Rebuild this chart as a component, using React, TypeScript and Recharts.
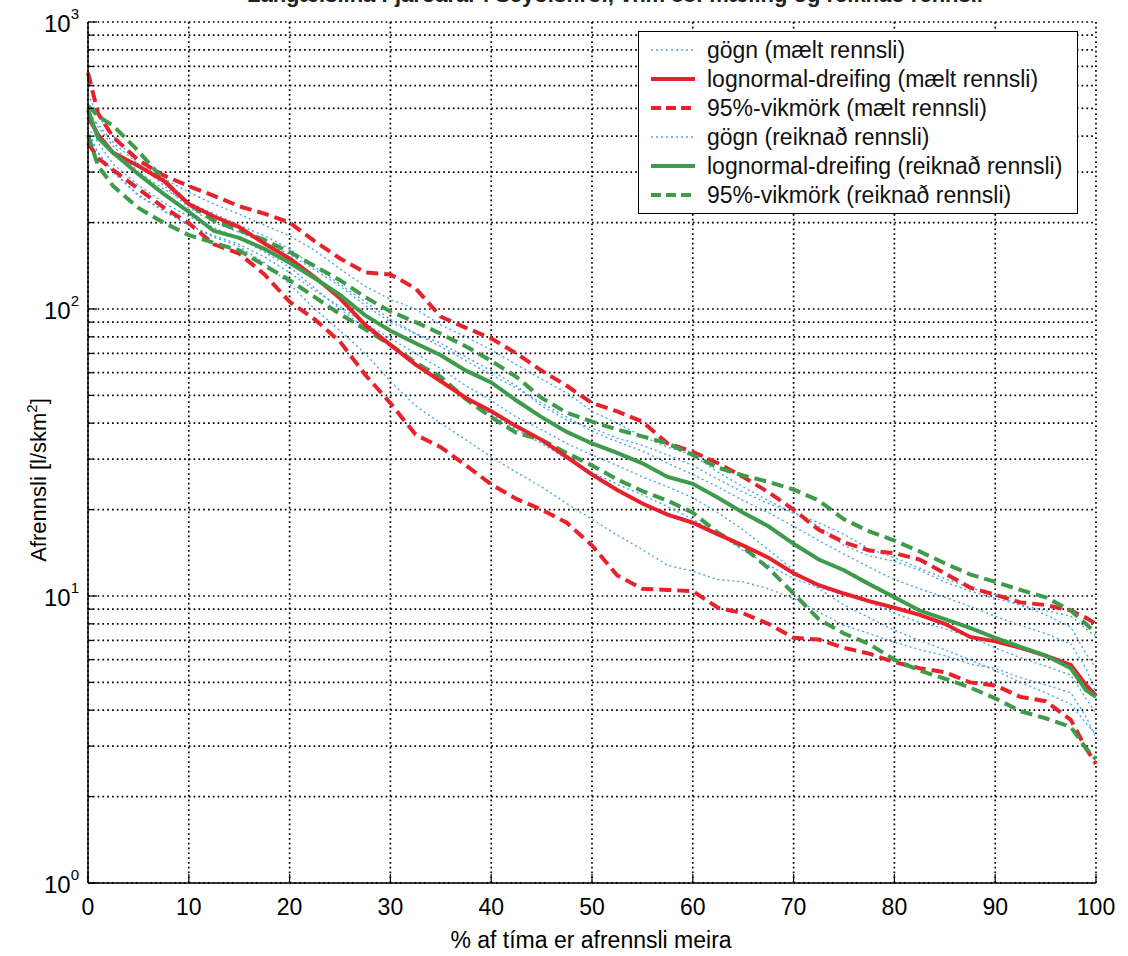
import { LineChart, Line, XAxis, YAxis, CartesianGrid } from 'recharts'

const FONT = '"Liberation Sans", Arial, Helvetica, sans-serif'
const RED = '#e8222c'
const GREEN = '#3d9b4b'
const BLUE = '#4aa6ea'

// % of time the runoff is exceeded
const pct = [
  0, 1, 2.5, 5, 7.5, 10, 12.5, 15, 17.5, 20, 22.5, 25, 27.5, 30, 32.5, 35, 37.5, 40, 42.5, 45,
  47.5, 50, 52.5, 55, 57.5, 60, 62.5, 65, 67.5, 70, 72.5, 75, 77.5, 80, 82.5, 85, 87.5, 90, 92.5,
  95, 97.5, 99, 100,
]

// lognormal fit, measured runoff (l/s/km2)
const redLogn = [
  467, 405, 350, 315, 280, 232, 210, 193, 169, 150, 129, 109, 88, 75, 64, 56, 49, 44, 39, 35,
  30.5, 26.5, 23.4, 21, 19.2, 18, 16.4, 15, 13.6, 12.0, 10.9, 10.2, 9.6, 9.1, 8.6, 8.0, 7.2, 6.95,
  6.6, 6.2, 5.75, 4.9, 4.5,
]
const redUpper = [
  665, 480, 397, 330, 292, 268, 248, 228, 215, 200, 172, 150, 134, 132, 118, 94, 86, 79, 70, 61,
  54, 47, 44, 40.5, 34, 31.8, 29, 26, 23, 20, 17, 15.4, 14.4, 14.1, 13.4, 12, 10.7, 10.1, 9.5,
  9.3, 8.9, 8.4, 8.0,
]
const redLower = [
  379, 335, 305, 262, 226, 199, 168, 156, 132, 106, 92, 77, 59, 47, 36.5, 33, 28.5, 24.5, 21.8,
  20, 18, 15, 11.8, 10.6, 10.5, 10.4, 9.1, 8.7, 8.0, 7.15, 7.05, 6.6, 6.3, 5.88, 5.6, 5.43, 5.0,
  4.88, 4.45, 4.3, 3.7, 2.95, 2.6,
]

// lognormal fit, computed runoff
const greenLogn = [
  493, 395, 350, 295, 252, 218, 187, 177, 162, 145, 128, 112, 95, 84, 76, 69, 61, 55.5, 48, 42,
  37.3, 34, 31.5, 29, 26, 24.6, 22, 19.5, 17.5, 15.2, 13.4, 12.3, 11.0, 9.9, 8.9, 8.3, 7.75, 7.15,
  6.65, 6.2, 5.6, 4.7, 4.45,
]
const greenUpper = [
  510, 470, 435, 355, 282, 232, 203, 188, 174, 158, 141, 126, 110, 98, 90, 82, 74, 66, 58, 49,
  43.5, 40.5, 38, 36, 34, 31, 28, 26.3, 25, 23.5, 21.5, 18.5, 16.8, 15.6, 14.3, 13, 11.9, 11.2,
  10.5, 9.9, 8.9, 8.0, 7.4,
]
const greenLower = [
  404, 315, 268, 225, 200, 181, 170, 160, 142, 126, 110, 96, 85, 75, 65, 58, 48.5, 42, 37, 35,
  31.5, 28.5, 25.5, 23.2, 21.5, 19.5, 16.6, 14.8, 12.5, 10.2, 8.3, 7.4, 6.8, 6.0, 5.5, 5.15, 4.8,
  4.4, 3.97, 3.75, 3.5, 2.95, 2.7,
]

// data curves (gögn)
const data1 = [
  560, 470, 400, 320, 285, 255, 232, 214, 196, 180, 160, 138, 120, 108, 100, 88, 80, 72, 64, 57,
  51, 44, 40, 36, 33, 31, 27, 24, 21.5, 19.5, 17.5, 15, 13.8, 13.2, 12.3, 11.2, 10.4, 9.8, 9.3,
  8.9, 8.5, 7.7, 7.2,
]
const data2 = [
  500, 430, 370, 300, 262, 235, 215, 196, 180, 162, 140, 122, 106, 92, 82, 74, 66, 59, 53, 47,
  42, 37.5, 34.5, 32, 29, 26.5, 24, 21.5, 19.5, 17.5, 15.6, 14, 12.6, 11.4, 10.6, 9.9, 9.2, 8.5,
  7.9, 7.4, 6.8, 5.6, 4.6,
]
const data3 = [
  430, 380, 320, 270, 235, 210, 192, 176, 158, 140, 118, 100, 86, 74, 64, 56, 49, 43, 38, 34,
  30, 27, 24.5, 22.5, 20.5, 18.5, 16.5, 14.4, 12.8, 11.5, 10.7, 10.1, 9.5, 8.7, 8.1, 7.7, 7.2,
  6.6, 6.1, 5.7, 5.3, 4.4, 3.9,
]
const data4 = [
  400, 350, 300, 250, 220, 196, 178, 165, 145, 122, 100, 84, 70, 56, 46, 40, 35, 30.5, 27, 24,
  21, 18.5, 16.3, 14.5, 12.8, 12.2, 11.4, 11.2, 10.6, 9.8, 8.8, 7.9, 7.4, 6.9, 6.5, 6.2, 5.8,
  5.6, 5.2, 4.9, 4.6, 3.8, 3.2,
]
const data5 = [
  470, 440, 380, 320, 270, 225, 200, 185, 170, 155, 137, 120, 103, 90, 82, 76, 68, 61, 54, 46,
  41, 38.5, 35.5, 33.5, 31, 28.5, 25.5, 23, 21, 19.5, 18, 16.4, 14.6, 13.6, 12.5, 11.5, 10.7,
  10.1, 9.3, 8.6, 7.8, 6.3, 5.6,
]
const data6 = [
  420, 350, 300, 248, 220, 196, 180, 168, 152, 134, 116, 102, 89, 79, 70, 62, 54, 48, 42, 38,
  34, 31, 28.5, 26, 24, 22, 19.5, 17, 14.5, 12.3, 10.6, 9.3, 8.4, 7.6, 7.0, 6.5, 6.0, 5.5, 5.0,
  4.6, 4.2, 3.6, 3.3,
]

const xTicks = [0, 10, 20, 30, 40, 50, 60, 70, 80, 90, 100]
const yTicks = [
  1, 2, 3, 4, 5, 6, 7, 8, 9, 10, 20, 30, 40, 50, 60, 70, 80, 90, 100, 200, 300, 400, 500, 600,
  700, 800, 900, 1000,
]
const decades = [1, 10, 100, 1000]

const rows = pct.map((p, i) => ({
  p,
  redLogn: redLogn[i],
  redUpper: redUpper[i],
  redLower: redLower[i],
  greenLogn: greenLogn[i],
  greenUpper: greenUpper[i],
  greenLower: greenLower[i],
  data1: data1[i],
  data2: data2[i],
  data3: data3[i],
  data4: data4[i],
  data5: data5[i],
  data6: data6[i],
}))

const legendItems = [
  { label: 'gögn (mælt rennsli)', color: BLUE, dash: '2 3', width: 1.5 },
  { label: 'lognormal-dreifing (mælt rennsli)', color: RED, dash: undefined, width: 4 },
  { label: '95%-vikmörk (mælt rennsli)', color: RED, dash: '10 5', width: 4 },
  { label: 'gögn (reiknað rennsli)', color: BLUE, dash: '2 3', width: 1.5 },
  { label: 'lognormal-dreifing (reiknað rennsli)', color: GREEN, dash: undefined, width: 4 },
  { label: '95%-vikmörk (reiknað rennsli)', color: GREEN, dash: '10 5', width: 4 },
]

function LeftTick({ x, y, payload }: any) {
  const v = payload.value
  const major = decades.includes(v)
  return (
    <g>
      <line x1={x} x2={x + (major ? 9 : 5)} y1={y} y2={y} stroke="#000" strokeWidth={1.2} />
      {major && (
        <text x={x - 9} y={y + 10} textAnchor="end" fontSize={24} fontFamily={FONT} fill="#000">
          10
          <tspan dy={-13} fontSize={15}>
            {Math.round(Math.log10(v))}
          </tspan>
        </text>
      )}
    </g>
  )
}

function RightTick({ x, y, payload }: any) {
  const major = decades.includes(payload.value)
  return <line x1={x} x2={x - (major ? 9 : 5)} y1={y} y2={y} stroke="#000" strokeWidth={1.2} />
}

function BottomTick({ x, y, payload }: any) {
  return (
    <g>
      <line x1={x} x2={x} y1={y} y2={y - 9} stroke="#000" strokeWidth={1.2} />
      <text x={x} y={y + 32} textAnchor="middle" fontSize={23} fontFamily={FONT} fill="#000">
        {payload.value}
      </text>
    </g>
  )
}

function TopTick({ x, y }: any) {
  return <line x1={x} x2={x} y1={y} y2={y + 9} stroke="#000" strokeWidth={1.2} />
}

function Legend() {
  return (
    <div
      style={{
        position: 'absolute',
        left: 638,
        top: 31,
        width: 440,
        height: 183,
        background: '#fff',
        border: '1.5px solid #000',
        boxSizing: 'border-box',
        fontFamily: FONT,
        fontSize: 23,
        color: '#111',
      }}
    >
      {legendItems.map((it, i) => (
        <div
          key={it.label}
          style={{ position: 'absolute', left: 0, top: 4 + i * 29, height: 28, display: 'flex', alignItems: 'center', whiteSpace: 'nowrap' }}
        >
          <svg width={60} height={28} style={{ marginLeft: 8 }}>
            <line
              x1={4}
              x2={48}
              y1={14}
              y2={14}
              stroke={it.color}
              strokeWidth={it.width}
              strokeDasharray={it.dash}
            />
          </svg>
          <span>{it.label}</span>
        </div>
      ))}
    </div>
  )
}

export default function App() {
  const blue = ['data1', 'data2', 'data3', 'data4', 'data5', 'data6']
  return (
    <div
      style={{
        position: 'absolute',
        left: 0,
        top: 0,
        width: 1128,
        height: 956,
        background: '#fff',
        overflow: 'hidden',
        fontFamily: FONT,
      }}
    >
      <div
        style={{
          position: 'absolute',
          left: 0,
          width: 1230,
          top: -18,
          textAlign: 'center',
          fontSize: 22,
          fontWeight: 'bold',
          color: '#222',
          whiteSpace: 'nowrap',
        }}
      >
        Langæislína Fjarðarár í Seyðisfirði, vhm 88: mæling og reiknað rennsli
      </div>
      <LineChart width={1128} height={956} data={rows} margin={{ top: 22, right: 32, bottom: 0, left: 0 }}>
        <CartesianGrid stroke="#000" strokeWidth={1.7} strokeDasharray="1.7 3.1" />
        <XAxis
          dataKey="p"
          type="number"
          domain={[0, 100]}
          ticks={xTicks}
          interval={0}
          height={73}
          tickSize={0}
          tickMargin={0}
          tickLine={false}
          tick={<BottomTick />}
          axisLine={{ stroke: '#000', strokeWidth: 1.5 }}
          label={() => (
            <text x={591} y={948} textAnchor="middle" fontSize={23} fontFamily={FONT} fill="#000">
              % af tíma er afrennsli meira
            </text>
          )}
        />
        <XAxis
          xAxisId="top"
          orientation="top"
          dataKey="p"
          type="number"
          domain={[0, 100]}
          ticks={xTicks}
          interval={0}
          height={0}
          tickSize={0}
          tickMargin={0}
          tickLine={false}
          tick={<TopTick />}
          axisLine={{ stroke: '#000', strokeWidth: 1.5 }}
        />
        <YAxis
          type="number"
          scale="log"
          domain={[1, 1000]}
          allowDataOverflow
          ticks={yTicks}
          interval={0}
          width={88}
          tickSize={0}
          tickMargin={0}
          tickLine={false}
          tick={<LeftTick />}
          axisLine={{ stroke: '#000', strokeWidth: 1.5 }}
          label={() => (
            <text
              transform="translate(46, 480) rotate(-90)"
              textAnchor="middle"
              fontSize={22}
              fontFamily={FONT}
              fill="#000"
            >
              Afrennsli [l/skm
              <tspan dy={-9} fontSize={15}>
                2
              </tspan>
              <tspan dy={9}>]</tspan>
            </text>
          )}
        />
        <YAxis
          yAxisId="right"
          orientation="right"
          type="number"
          scale="log"
          domain={[1, 1000]}
          allowDataOverflow
          ticks={yTicks}
          interval={0}
          width={0}
          tickSize={0}
          tickMargin={0}
          tickLine={false}
          tick={<RightTick />}
          axisLine={{ stroke: '#000', strokeWidth: 1.5 }}
        />
        <Line
          xAxisId="top"
          yAxisId="right"
          dataKey="redLogn"
          stroke="none"
          dot={false}
          activeDot={false}
          legendType="none"
          isAnimationActive={false}
        />
        {blue.map((k) => (
          <Line
            key={k}
            dataKey={k}
            type="linear"
            stroke={BLUE}
            strokeWidth={1.4}
            strokeDasharray="2 3"
            dot={false}
            activeDot={false}
            isAnimationActive={false}
          />
        ))}
        <Line dataKey="redUpper" type="linear" stroke={RED} strokeWidth={4} strokeDasharray="12 6" dot={false} isAnimationActive={false} />
        <Line dataKey="redLower" type="linear" stroke={RED} strokeWidth={4} strokeDasharray="12 6" dot={false} isAnimationActive={false} />
        <Line dataKey="greenUpper" type="linear" stroke={GREEN} strokeWidth={4} strokeDasharray="12 6" dot={false} isAnimationActive={false} />
        <Line dataKey="greenLower" type="linear" stroke={GREEN} strokeWidth={4} strokeDasharray="12 6" dot={false} isAnimationActive={false} />
        <Line dataKey="redLogn" type="linear" stroke={RED} strokeWidth={4} dot={false} isAnimationActive={false} />
        <Line dataKey="greenLogn" type="linear" stroke={GREEN} strokeWidth={4} dot={false} isAnimationActive={false} />
      </LineChart>
      <Legend />
    </div>
  )
}
